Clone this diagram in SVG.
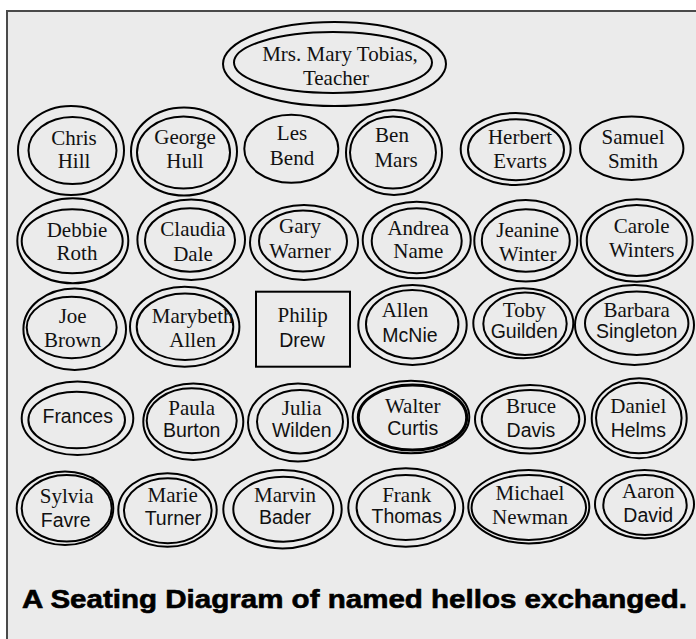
<svg xmlns="http://www.w3.org/2000/svg" width="696" height="639" viewBox="0 0 696 639">
<style>
.o{fill:none;stroke:#000;stroke-width:2}
.t{fill:none;stroke:#000;stroke-width:3}
.s{font-family:"Liberation Serif","Times New Roman",serif;font-size:21px;fill:#111;text-anchor:middle}
.a{font-family:"Liberation Sans",Arial,sans-serif;font-size:19.5px;fill:#111;text-anchor:middle}
.title{font-family:"Liberation Sans Narrow","Liberation Sans",Arial,sans-serif;font-weight:bold;font-size:25px;fill:#000;stroke:#000;stroke-width:0.6}
</style>
<rect x="0" y="0" width="696" height="639" fill="#fff"/>
<rect x="7" y="11" width="700" height="640" fill="#ebebeb" stroke="#4a4a4a" stroke-width="2"/>
<g id="connectors"/>
<g id="teacher"><ellipse class="o" cx="334.5" cy="64" rx="111.5" ry="42"/><ellipse class="o" cx="333" cy="62.5" rx="99" ry="30.5"/><text class="s" x="340" y="61">Mrs. Mary Tobias,</text><text class="s" x="336" y="85">Teacher</text></g>

<g id="chris-hill"><ellipse class="o" cx="71" cy="150.5" rx="53" ry="44.5"/><ellipse class="o" cx="72.5" cy="150.5" rx="44" ry="33.5"/><text class="s" x="74" y="145">Chris</text><text class="s" x="74" y="168">Hill</text></g>
<g id="george-hull"><ellipse class="o" cx="184" cy="151.5" rx="53" ry="44"/><ellipse class="o" cx="183.5" cy="152.5" rx="46.5" ry="36"/><text class="s" x="185" y="144">George</text><text class="s" x="185" y="167.5">Hull</text></g>
<g id="les-bend"><ellipse class="o" cx="291.3" cy="148.8" rx="47" ry="34"/><text class="s" x="292" y="140">Les</text><text class="s" x="292" y="165">Bend</text></g>
<g id="ben-mars"><ellipse class="o" cx="394" cy="152.5" rx="48" ry="42.5"/><ellipse class="o" cx="393" cy="152.5" rx="43" ry="36"/><text class="s" x="392" y="141.5">Ben</text><text class="s" x="396" y="166.5">Mars</text></g>
<g id="herbert-evarts"><ellipse class="o" cx="515.7" cy="149" rx="55" ry="36"/><ellipse class="o" cx="516" cy="149.7" rx="48" ry="30.5"/><text class="s" x="520" y="144">Herbert</text><text class="s" x="520" y="168.3">Evarts</text></g>
<g id="samuel-smith"><ellipse class="o" cx="631.7" cy="148.3" rx="51.7" ry="31.7"/><text class="s" x="633" y="144">Samuel</text><text class="s" x="633" y="168.3">Smith</text></g>

<g id="debbie-roth"><ellipse class="o" cx="72.8" cy="240.8" rx="55.5" ry="42.5"/><ellipse class="o" cx="72.2" cy="241.3" rx="50.5" ry="32"/><text class="s" x="77" y="236.7">Debbie</text><text class="s" x="77" y="260">Roth</text></g>
<g id="claudia-dale"><ellipse class="o" cx="191.2" cy="239.7" rx="53.8" ry="40.3"/><ellipse class="o" cx="190" cy="240" rx="45" ry="31.7"/><text class="s" x="193" y="236">Claudia</text><text class="s" x="193" y="261">Dale</text></g>
<g id="gary-warner"><ellipse class="o" cx="304" cy="242.5" rx="54" ry="37.5"/><ellipse class="o" cx="303" cy="241" rx="44" ry="30.5"/><text class="s" x="300" y="233.3">Gary</text><text class="s" x="300" y="258.3">Warner</text></g>
<g id="andrea-name"><ellipse class="o" cx="416.7" cy="240" rx="54" ry="38.3"/><ellipse class="o" cx="416.7" cy="240.8" rx="45" ry="32.5"/><text class="s" x="418.3" y="235">Andrea</text><text class="s" x="418.3" y="258.3">Name</text></g>
<g id="jeanine-winter"><ellipse class="o" cx="525.8" cy="240.8" rx="51.5" ry="40.8"/><ellipse class="o" cx="525.8" cy="240.5" rx="44" ry="31.2"/><text class="s" x="527.7" y="236.7">Jeanine</text><text class="s" x="527.7" y="260.7">Winter</text></g>
<g id="carole-winters"><ellipse class="o" cx="636.7" cy="240.5" rx="56" ry="41.2"/><ellipse class="o" cx="636.7" cy="240.5" rx="50" ry="35.5"/><text class="s" x="641.7" y="232.7">Carole</text><text class="s" x="641.7" y="256.7">Winters</text></g>

<g id="joe-brown"><ellipse class="o" cx="74.7" cy="329.2" rx="51.3" ry="40.8"/><ellipse class="o" cx="71.7" cy="327.5" rx="45" ry="30.8"/><text class="s" x="72.7" y="322.7">Joe</text><text class="s" x="72.7" y="346.7">Brown</text></g>
<g id="marybeth-allen"><ellipse class="o" cx="184.7" cy="326.7" rx="54.7" ry="40"/><ellipse class="o" cx="185" cy="326.7" rx="48.3" ry="33.3"/><text class="s" x="192.7" y="323.3">Marybeth</text><text class="s" x="192.7" y="346.7">Allen</text></g>
<g id="philip-drew"><rect class="o" x="256" y="291.7" width="94" height="75"/><text class="s" x="302.7" y="321.7">Philip</text><text class="a" x="302" y="346.7">Drew</text></g>
<g id="allen-mcnie"><ellipse class="o" cx="412.5" cy="325" rx="54.2" ry="40"/><ellipse class="o" cx="412.2" cy="324.2" rx="46.2" ry="34.2"/><text class="s" x="405" y="316.7">Allen</text><text class="a" x="410" y="341.7">McNie</text></g>
<g id="toby-guilden"><ellipse class="o" cx="523.3" cy="323.3" rx="50" ry="35"/><ellipse class="o" cx="525" cy="323.8" rx="41.7" ry="31.2"/><text class="s" x="524.3" y="316.7">Toby</text><text class="a" x="524.3" y="338.3">Guilden</text></g>
<g id="barbara-singleton"><ellipse class="o" cx="634.5" cy="325" rx="59.5" ry="40"/><ellipse class="o" cx="636.7" cy="323.3" rx="51.7" ry="31.7"/><text class="s" x="636.7" y="316.7">Barbara</text><text class="a" x="636.7" y="338.3">Singleton</text></g>

<g id="frances"><ellipse class="o" cx="77.5" cy="418.3" rx="55.8" ry="36.7"/><ellipse class="o" cx="76.7" cy="420" rx="48.3" ry="28.3"/><text class="a" x="77.7" y="423.3">Frances</text></g>
<g id="paula-burton"><ellipse class="o" cx="193.3" cy="421.7" rx="50" ry="38.3"/><ellipse class="o" cx="191.7" cy="420.8" rx="45" ry="32.5"/><text class="s" x="191.7" y="415">Paula</text><text class="a" x="191.7" y="436.7">Burton</text></g>
<g id="julia-wilden"><ellipse class="o" cx="298" cy="422.5" rx="50" ry="39"/><ellipse class="o" cx="300" cy="421.7" rx="43" ry="31.7"/><text class="s" x="301.7" y="415">Julia</text><text class="a" x="301.7" y="436.7">Wilden</text></g>
<g id="walter-curtis"><ellipse class="o" cx="411" cy="417" rx="58.3" ry="36.3"/><ellipse class="t" cx="412.5" cy="417.5" rx="54.2" ry="32.5"/><text class="s" x="412.7" y="413.3">Walter</text><text class="a" x="412.7" y="435">Curtis</text></g>
<g id="bruce-davis"><ellipse class="o" cx="530" cy="419.2" rx="55" ry="34.2"/><ellipse class="o" cx="530.5" cy="419.2" rx="48.8" ry="29.2"/><text class="s" x="531" y="413.3">Bruce</text><text class="a" x="531" y="436.7">Davis</text></g>
<g id="daniel-helms"><ellipse class="o" cx="639.2" cy="418.3" rx="47.5" ry="40"/><ellipse class="o" cx="638.8" cy="418" rx="42.8" ry="35.3"/><text class="s" x="638.3" y="412.7">Daniel</text><text class="a" x="638.3" y="436.7">Helms</text></g>

<g id="sylvia-favre"><ellipse class="o" cx="65" cy="508.3" rx="48.3" ry="36.7"/><ellipse class="o" cx="66.7" cy="508.3" rx="45" ry="33.3"/><text class="s" x="66.7" y="503.3">Sylvia</text><text class="a" x="65.7" y="526.7">Favre</text></g>
<g id="marie-turner"><ellipse class="o" cx="167.5" cy="510" rx="49.2" ry="36.7"/><ellipse class="o" cx="167.8" cy="510.8" rx="43.8" ry="32.5"/><text class="s" x="172.7" y="501.7">Marie</text><text class="a" x="173" y="525">Turner</text></g>
<g id="marvin-bader"><ellipse class="o" cx="282.5" cy="509.2" rx="59.2" ry="39.2"/><ellipse class="o" cx="283.3" cy="509.2" rx="50" ry="32.5"/><text class="s" x="285" y="501.7">Marvin</text><text class="a" x="285" y="524">Bader</text></g>
<g id="frank-thomas"><ellipse class="o" cx="405.8" cy="507.5" rx="57.5" ry="39.2"/><ellipse class="o" cx="405.8" cy="507.5" rx="49.2" ry="32.5"/><text class="s" x="406.7" y="501.7">Frank</text><text class="a" x="406.7" y="523.3">Thomas</text></g>
<g id="michael-newman"><ellipse class="o" cx="528.8" cy="506.7" rx="60.5" ry="36.7"/><ellipse class="o" cx="528.8" cy="507.5" rx="57.2" ry="32.5"/><text class="s" x="530" y="500">Michael</text><text class="s" x="530" y="524">Newman</text></g>
<g id="aaron-david"><ellipse class="o" cx="644.5" cy="504.2" rx="49.5" ry="34.2"/><ellipse class="o" cx="645" cy="505" rx="41.7" ry="30"/><text class="s" x="648.3" y="498.3">Aaron</text><text class="a" x="648.3" y="521.7">David</text></g>

<text class="title" x="22" y="608" textLength="665" lengthAdjust="spacingAndGlyphs">A Seating Diagram of named hellos exchanged.</text>
</svg>
